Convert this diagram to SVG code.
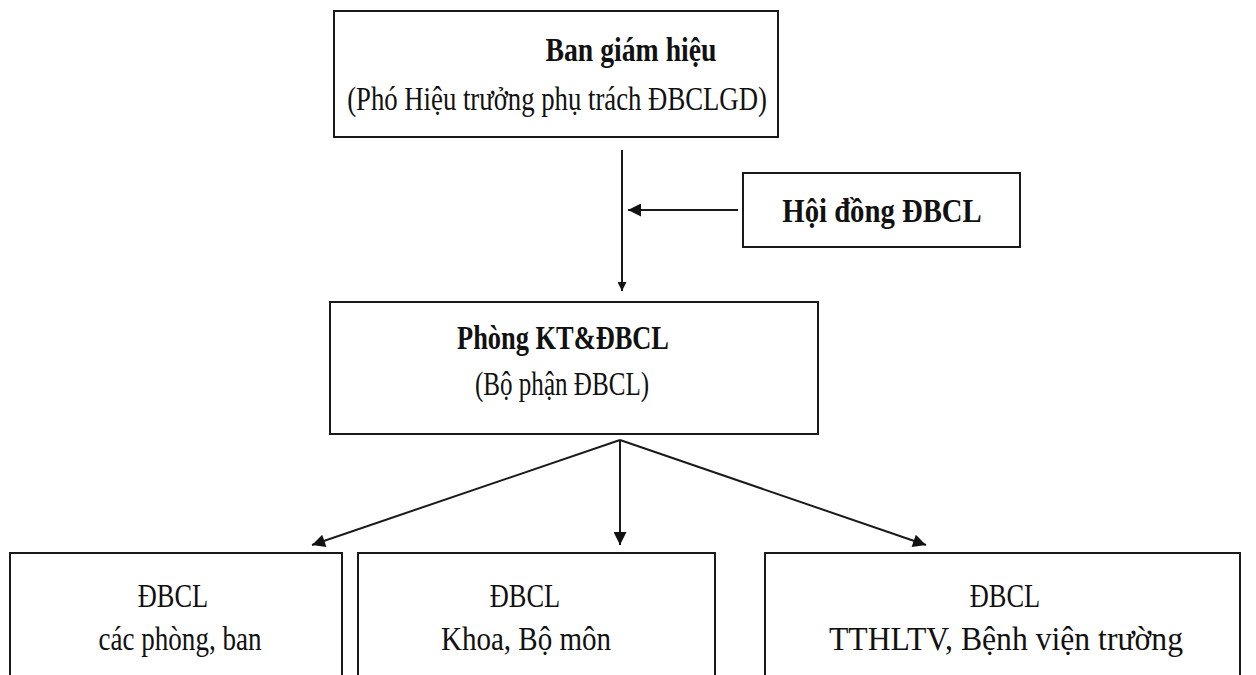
<svg xmlns="http://www.w3.org/2000/svg" width="1256" height="675" viewBox="0 0 1256 675">
  <defs>
    <marker id="arrow" viewBox="0 0 10 10" refX="10" refY="5" markerWidth="14" markerHeight="9" markerUnits="userSpaceOnUse" orient="auto">
      <path d="M0,0 L10,5 L0,10 z" fill="#111"/>
    </marker>
    <marker id="arrowBig" viewBox="0 0 10 10" refX="10" refY="5" markerWidth="17" markerHeight="13" markerUnits="userSpaceOnUse" orient="auto">
      <path d="M0,0 L10,5 L0,10 z" fill="#111"/>
    </marker>
  </defs>
  <style>
    .box { fill: #fff; stroke: #1a1a1a; stroke-width: 2; }
    .t { font-family: "Liberation Serif", "Times New Roman", serif; fill: #111; text-anchor: middle; font-size: 33px; }
    .b { font-weight: bold; }
    .con { stroke: #1a1a1a; stroke-width: 2; fill: none; }
  </style>
  <rect width="1256" height="675" fill="#fff"/>

  <!-- narrow (condensed) serif lettering: x-scale applied per label -->
  <g id="ban-giam-hieu">
    <rect class="box" x="334" y="11" width="444" height="126"/>
    <text class="t b" transform="matrix(0.84 0 0 1 631 61)">Ban giám hiệu</text>
    <text class="t" transform="matrix(0.81 0 0 1 557 110)">(Phó Hiệu trưởng phụ trách ĐBCLGD)</text>
  </g>

  <g id="hoi-dong">
    <rect class="box" x="743" y="173" width="277" height="74"/>
    <text class="t b" transform="matrix(0.87 0 0 1 882 222)">Hội đồng ĐBCL</text>
  </g>

  <g id="phong-kt">
    <rect class="box" x="330" y="302" width="488" height="132"/>
    <text class="t b" transform="matrix(0.8 0 0 1 563 349)">Phòng KT&amp;ĐBCL</text>
    <text class="t" transform="matrix(0.76 0 0 1 562 395)">(Bộ phận ĐBCL)</text>
  </g>

  <g id="dbcl-phong-ban">
    <rect class="box" x="10" y="553" width="332" height="140"/>
    <text class="t" transform="matrix(0.8 0 0 1 173 607)">ĐBCL</text>
    <text class="t" transform="matrix(0.82 0 0 1 180 650)">các phòng, ban</text>
  </g>

  <g id="dbcl-khoa">
    <rect class="box" x="358" y="553" width="357" height="140"/>
    <text class="t" transform="matrix(0.8 0 0 1 525 607)">ĐBCL</text>
    <text class="t" transform="matrix(0.88 0 0 1 526 650)">Khoa, Bộ môn</text>
  </g>

  <g id="dbcl-tthltv">
    <rect class="box" x="765" y="553" width="475" height="140"/>
    <text class="t" transform="matrix(0.8 0 0 1 1005 607)">ĐBCL</text>
    <text class="t" transform="matrix(0.96 0 0 1 1006 650)">TTHLTV, Bệnh viện trường</text>
  </g>

  <g id="connectors">
    <line class="con" x1="622" y1="150" x2="622" y2="291" marker-end="url(#arrow)"/>
    <line class="con" x1="738" y1="210" x2="628" y2="210" marker-end="url(#arrowBig)"/>
    <line class="con" x1="620" y1="440" x2="312" y2="545" marker-end="url(#arrowBig)"/>
    <line class="con" x1="620" y1="440" x2="620" y2="545" marker-end="url(#arrowBig)"/>
    <line class="con" x1="620" y1="440" x2="926" y2="545" marker-end="url(#arrowBig)"/>
  </g>
</svg>
